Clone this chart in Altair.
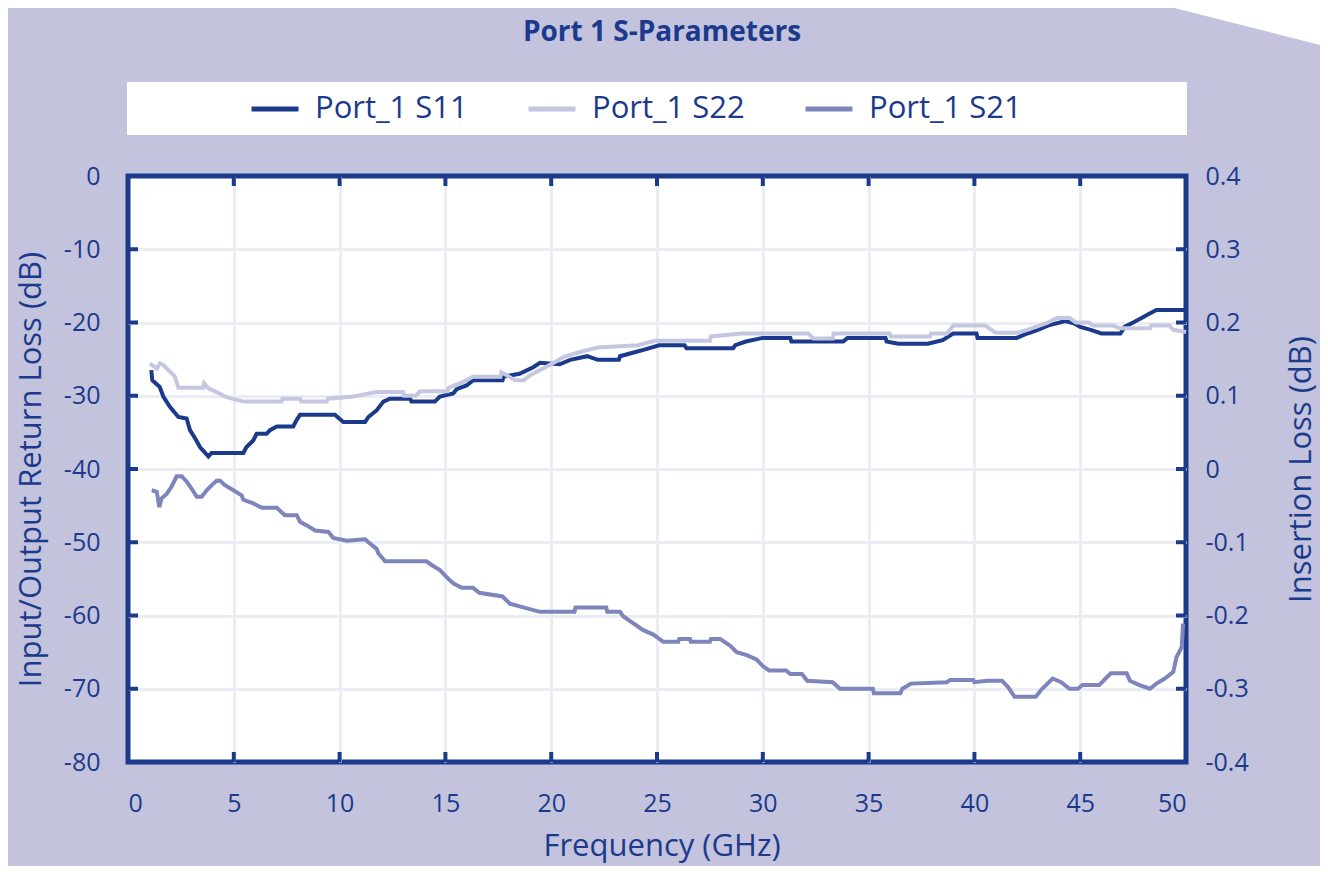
import altair as alt
import pandas as pd

TITLE = "Port 1 S-Parameters"
SERIES = ["Port_1 S11", "Port_1 S22", "Port_1 S21"]

S11_FREQ = [1.1, 1.15, 1.5, 1.67, 1.98, 2.38, 2.77, 2.93, 3.17, 3.4, 3.8, 3.95, 5.45, 5.6, 5.92,
            6.08, 6.55, 6.71, 7.03, 7.81, 7.97, 8.13, 9.78, 10.17, 11.2, 11.36, 11.75, 12.07, 12.38,
            13.33, 13.4, 14.5, 14.74, 15.37, 15.53, 16.0, 16.3, 17.7, 17.75, 18.5, 19.15, 19.47,
            20.4, 20.9, 21.7, 22.2, 23.2, 23.25, 23.9, 24.4, 25.1, 26.3, 26.4, 28.6, 28.7, 29.2,
            30.0, 31.3, 31.35, 33.8, 34.0, 35.8, 35.85, 36.4, 37.8, 38.5, 39.0, 40.1, 40.15, 42.0,
            42.5, 43.0, 43.5, 44.3, 44.7, 45.0, 45.5, 46.0, 46.9, 47.1, 47.5, 47.9, 48.2, 48.6, 50.0]
S11_DB = [-26.5, -27.9, -28.8, -30.1, -31.5, -32.9, -33.1, -34.7, -35.8, -37.0, -38.3, -37.8, -37.8,
          -37.0, -36.1, -35.2, -35.2, -34.7, -34.2, -34.2, -33.3, -32.6, -32.6, -33.6, -33.6, -32.9,
          -32.0, -30.8, -30.4, -30.4, -30.8, -30.8, -30.1, -29.7, -29.1, -28.6, -27.9, -27.9, -27.4,
          -27.0, -26.1, -25.5, -25.7, -25.1, -24.6, -25.1, -25.1, -24.6, -24.1, -23.7, -23.1, -23.1,
          -23.5, -23.5, -23.1, -22.6, -22.1, -22.1, -22.6, -22.6, -22.1, -22.1, -22.6, -22.9, -22.9,
          -22.4, -21.5, -21.5, -22.1, -22.1, -21.5, -21.0, -20.4, -19.8, -20.1, -20.6, -21.0, -21.5,
          -21.5, -20.6, -20.0, -19.4, -18.9, -18.3, -18.3]

S22_FREQ = [1.04, 1.36, 1.51, 1.67, 1.98, 2.22, 2.38, 3.56, 3.6, 3.8, 4.19, 4.66, 5.45, 7.26, 7.3,
            8.13, 8.18, 9.39, 9.45, 10.65, 11.75, 13.0, 13.05, 13.6, 13.8, 15.1, 15.15, 15.85, 16.3,
            17.6, 17.65, 17.9, 18.3, 18.7, 19.0, 19.8, 20.6, 21.4, 22.2, 24.1, 24.9, 27.5, 27.55,
            29.0, 32.15, 32.4, 33.3, 33.35, 36.0, 36.05, 37.9, 37.95, 38.7, 39.0, 40.5, 41.0, 42.0,
            42.5, 42.9, 43.4, 43.9, 44.5, 44.8, 45.4, 45.6, 46.5, 46.9, 48.3, 48.35, 49.2, 49.4, 50.0]
S22_DB = [-25.6, -26.3, -25.6, -25.8, -26.7, -27.4, -28.9, -28.9, -28.3, -29.0, -29.5, -30.2, -30.8,
          -30.8, -30.4, -30.4, -30.8, -30.8, -30.4, -30.1, -29.5, -29.5, -30.0, -30.0, -29.4, -29.4,
          -28.9, -28.1, -27.4, -27.4, -26.8, -27.2, -27.9, -27.9, -27.2, -26.0, -24.7, -24.0, -23.4,
          -23.1, -22.5, -22.5, -21.9, -21.5, -21.5, -22.2, -22.2, -21.5, -21.5, -21.9, -21.9, -21.5,
          -21.5, -20.4, -20.4, -21.4, -21.4, -21.0, -20.6, -20.1, -19.4, -19.4, -20.0, -20.0, -20.4,
          -20.4, -20.8, -20.8, -20.4, -20.4, -21.0, -21.3]

S21_FREQ = [1.12, 1.36, 1.48, 1.59, 1.83, 2.06, 2.3, 2.54, 2.77, 3.01, 3.25, 3.48, 3.72, 3.96, 4.19,
            4.35, 4.58, 4.98, 5.37, 5.45, 5.92, 6.32, 7.03, 7.26, 7.42, 7.97, 8.13, 8.45, 8.84, 9.47,
            9.7, 10.34, 11.2, 11.36, 11.75, 11.83, 12.15, 14.1, 14.35, 14.74, 15.14, 15.37, 15.77,
            16.3, 16.6, 17.7, 18.05, 18.68, 19.47, 21.1, 21.15, 22.6, 22.65, 23.25, 23.4, 23.8, 24.35,
            24.83, 25.3, 26.0, 26.05, 26.56, 26.6, 27.5, 27.55, 27.98, 28.45, 28.77, 29.24, 29.7,
            30.0, 30.3, 31.1, 31.3, 31.85, 32.1, 33.3, 33.65, 35.2, 35.25, 36.5, 36.6, 37.0, 38.7,
            38.85, 39.95, 40.0, 40.6, 41.3, 41.6, 41.9, 42.9, 43.2, 43.7, 44.1, 44.5, 44.9, 45.1,
            45.9, 46.2, 46.45, 47.2, 47.35, 47.8, 48.3, 48.6, 49.0, 49.4, 49.55, 49.8, 49.86]
S21_DB = [-0.029, -0.031, -0.052, -0.040, -0.034, -0.024, -0.010, -0.010, -0.017, -0.027, -0.038,
          -0.038, -0.029, -0.022, -0.016, -0.016, -0.022, -0.029, -0.036, -0.042, -0.047, -0.053,
          -0.053, -0.059, -0.063, -0.063, -0.072, -0.077, -0.084, -0.086, -0.094, -0.098, -0.096,
          -0.100, -0.109, -0.115, -0.126, -0.126, -0.131, -0.138, -0.150, -0.156, -0.162, -0.162,
          -0.169, -0.174, -0.184, -0.189, -0.195, -0.195, -0.189, -0.189, -0.195, -0.195, -0.201,
          -0.209, -0.220, -0.226, -0.236, -0.236, -0.232, -0.232, -0.236, -0.236, -0.232, -0.232,
          -0.241, -0.250, -0.254, -0.260, -0.269, -0.275, -0.275, -0.280, -0.280, -0.289, -0.291,
          -0.300, -0.300, -0.306, -0.306, -0.300, -0.293, -0.291, -0.288, -0.288, -0.291, -0.289,
          -0.289, -0.298, -0.311, -0.311, -0.300, -0.286, -0.291, -0.300, -0.300, -0.295, -0.295,
          -0.286, -0.279, -0.279, -0.289, -0.295, -0.300, -0.293, -0.286, -0.277, -0.257, -0.243,
          -0.211]

X_TICKS = [0, 5, 10, 15, 20, 25, 30, 35, 40, 45, 50]
Y_LEFT_TICKS = [0, -10, -20, -30, -40, -50, -60, -70, -80]
Y_RIGHT_TICKS = [0.4, 0.3, 0.2, 0.1, 0.0, -0.1, -0.2, -0.3, -0.4]

DARK = "#1b3a8c"
BG = "#c3c3de"
GRID = "#ececf5"
COLORS = [DARK, "#c5c7e1", "#7e85bc"]
FONT = "Open Sans"
W, H = 1058, 586

df11 = pd.DataFrame({"freq": S11_FREQ, "db": S11_DB, "series": SERIES[0]})
df22 = pd.DataFrame({"freq": S22_FREQ, "db": S22_DB, "series": SERIES[1]})
df21 = pd.DataFrame({"freq": S21_FREQ, "il": S21_DB, "series": SERIES[2]})

legend = alt.Legend(
    orient="none", legendX=121, legendY=-93, direction="horizontal", title=None,
    labelFont=FONT, labelFontSize=31, labelColor=DARK, symbolType="stroke",
    symbolSize=2209, symbolStrokeWidth=5, labelOffset=14, columnPadding=50,
    padding=0, labelLimit=500,
)
color = alt.Color("series:N", scale=alt.Scale(domain=SERIES, range=COLORS), legend=legend)

x_scale = alt.Scale(domain=[0, 50], nice=False, zero=False)
yl_scale = alt.Scale(domain=[-80, 0], nice=False, zero=False)
yr_scale = alt.Scale(domain=[-0.4, 0.4], nice=False, zero=False)

x_enc = alt.X(
    "freq:Q", scale=x_scale,
    axis=alt.Axis(
        values=X_TICKS, title="Frequency (GHz)", grid=True, labelPadding=29,
        gridOpacity={"condition": {"test": "datum.value == 0 || datum.value == 50", "value": 0}, "value": 1},
        titleX=533.5, titleY=93, titleAlign="center", titleBaseline="alphabetic",
    ),
)
yl_enc = alt.Y(
    "db:Q", scale=yl_scale,
    axis=alt.Axis(
        values=Y_LEFT_TICKS, title="Input/Output Return Loss (dB)", grid=True,
        labelExpr="toString(datum.value)", labelPadding=28,
        gridOpacity={"condition": {"test": "datum.value == 0 || datum.value == -80", "value": 0}, "value": 1},
        titleX=-88, titleY=H / 2, titleAngle=270, titleAlign="center", titleBaseline="alphabetic",
    ),
)
yr_enc = alt.Y(
    "il:Q", scale=yr_scale,
    axis=alt.Axis(
        orient="right", values=Y_RIGHT_TICKS, title="Insertion Loss (dB)", grid=False,
        labelExpr="datum.value == 0 ? '0' : toString(round(datum.value * 10) / 10)",
        labelPadding=19, titleX=124, titleY=H / 2, titleAngle=270, titleAlign="center",
        titleBaseline="alphabetic",
    ),
)

one = pd.DataFrame({"k": [0]})
legend_bg = alt.Chart(one).mark_rect(color="white").encode(
    x=alt.value(-1), x2=alt.value(W + 1), y=alt.value(-94), y2=alt.value(-41)
)
corner = alt.Chart(one).mark_point(
    shape="M-1,-0.254L1,-0.254L1,0.254Z", size=34225, filled=True, fill="white",
    opacity=1, strokeWidth=0,
).encode(x=alt.value(1107.5), y=alt.value(-152.5))

LW = 4
s11 = alt.Chart(df11).mark_line(strokeWidth=LW).encode(x=x_enc, y=yl_enc, color=color)
s22 = alt.Chart(df22).mark_line(strokeWidth=LW).encode(x=x_enc, y=yl_enc, color=color)
s21 = alt.Chart(df21).mark_line(strokeWidth=LW).encode(x=x_enc, y=yr_enc, color=color)

xt = alt.Chart(pd.DataFrame({"freq": X_TICKS[1:-1]}))
yt = alt.Chart(pd.DataFrame({"db": Y_LEFT_TICKS[1:-1]}))
tick_b = xt.mark_rule(color=DARK, strokeWidth=4).encode(x=x_enc, y=alt.value(H - 10), y2=alt.value(H))
tick_t = xt.mark_rule(color=DARK, strokeWidth=4).encode(x=x_enc, y=alt.value(0), y2=alt.value(10))
tick_l = yt.mark_rule(color=DARK, strokeWidth=4).encode(y=yl_enc, x=alt.value(0), x2=alt.value(10))
tick_r = yt.mark_rule(color=DARK, strokeWidth=4).encode(y=yl_enc, x=alt.value(W - 10), x2=alt.value(W))

left = alt.layer(legend_bg, corner, s11, s22, tick_b, tick_t, tick_l, tick_r)

chart = (
    alt.layer(left, s21)
    .resolve_scale(y="independent")
    .properties(
        width=W, height=H,
        autosize=alt.AutoSizeParams(type="none"),
        padding={"left": 120, "top": 168, "right": 134, "bottom": 104},
        background=BG,
        title=alt.Title(
            TITLE, font=FONT, fontSize=28, fontWeight="bold", color=DARK, anchor="middle",
            frame="group", baseline="alphabetic", offset=0, dy=69, dx=5,
        ),
    )
    .configure_view(stroke=DARK, strokeWidth=5, fill="white")
    .configure_axis(
        domain=False, ticks=False, tickSize=0, labelFont=FONT, labelFontSize=25,
        labelColor=DARK, titleFont=FONT, titleFontSize=31, titleFontWeight="normal",
        titleColor=DARK, gridColor=GRID, gridWidth=3,
    )
)

chart.save("out.html", embed_options={"renderer": "svg", "actions": False})
